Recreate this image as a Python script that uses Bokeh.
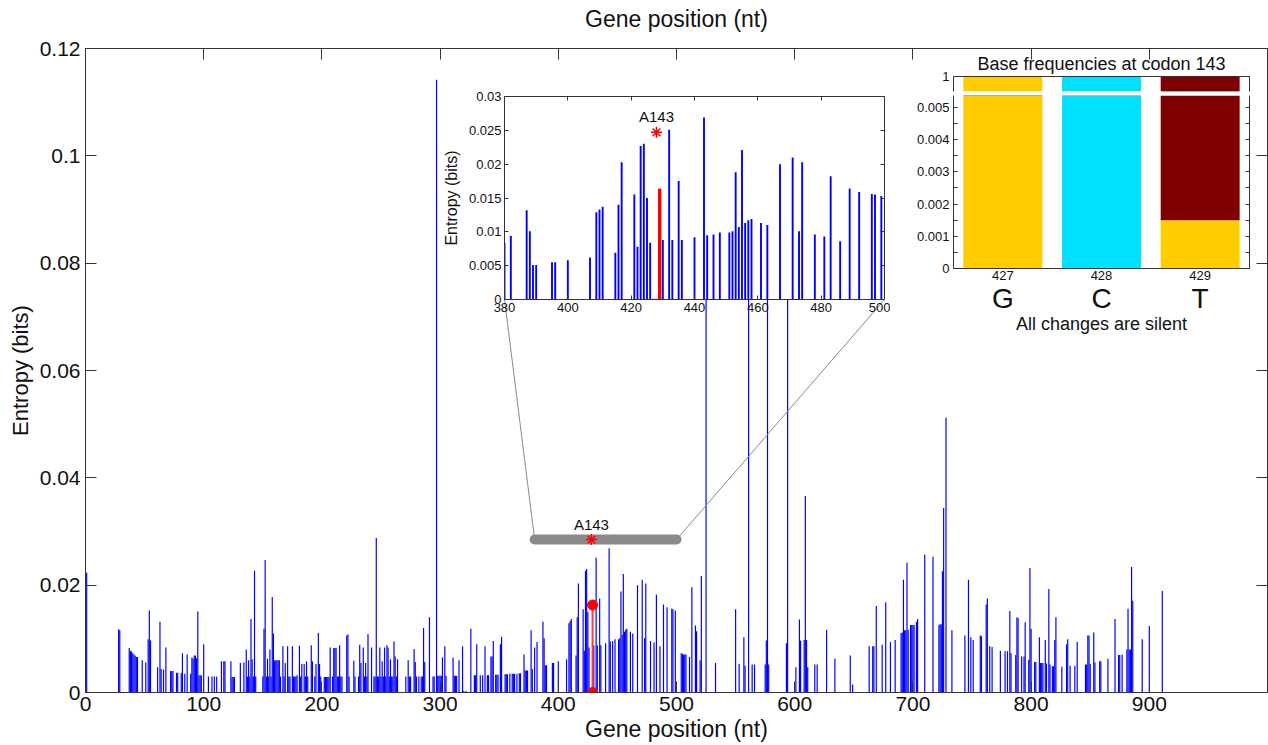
from bokeh.plotting import figure
from bokeh.models import (ColumnDataSource, Range1d, LinearAxis, FixedTicker, GridBox, Title, Grid)
from bokeh.embed import file_html
from bokeh.resources import INLINE
from bokeh.core.properties import value

FONT = "Liberation Sans"
TXT = "#111111"
AXC = "#333333"

# ------------------------------------------------------------------ data
main_pos = [
    0, 1, 28, 29, 37, 38, 39, 40, 41, 42, 43, 44, 48, 51, 53, 54, 55, 61, 63, 64,
    66, 68, 72, 73, 74, 77, 78, 81, 82, 84, 86, 89, 90, 91, 92, 93, 94, 95, 96, 97,
    98, 100, 104, 107, 109, 111, 115, 117, 118, 123, 124, 125, 126, 131, 134, 136, 137, 138, 139, 140,
    141, 142, 143, 144, 150, 151, 152, 153, 154, 155, 156, 157, 158, 159, 160, 161, 162, 163, 164, 165,
    167, 168, 169, 171, 172, 173, 175, 176, 177, 178, 179, 181, 182, 183, 185, 186, 187, 188, 191, 192,
    194, 195, 197, 198, 199, 202, 203, 204, 205, 206, 207, 209, 210, 211, 212, 213, 214, 215, 216, 217,
    221, 222, 223, 227, 228, 231, 232, 233, 235, 236, 237, 238, 239, 242, 244, 245, 246, 247, 248, 249,
    250, 251, 252, 253, 254, 255, 256, 257, 258, 259, 260, 261, 262, 263, 264, 271, 273, 274, 275, 278,
    279, 280, 282, 284, 285, 286, 287, 291, 294, 295, 297, 298, 299, 300, 301, 302, 304, 305, 311, 312,
    313, 314, 316, 319, 320, 322, 326, 329, 330, 331, 334, 336, 338, 340, 341, 343, 344, 345, 347, 348,
    349, 351, 352, 355, 356, 357, 359, 361, 362, 363, 365, 367, 368, 371, 372, 373, 374, 377, 378, 380,
    382, 387, 388, 389, 390, 395, 396, 400, 407, 409, 410, 411, 415, 416, 417, 421, 422, 423, 424, 425,
    426, 430, 432, 433, 435, 436, 440, 443, 444, 446, 448, 451, 452, 453, 454, 455, 456, 457, 458, 461,
    463, 467, 471, 473, 474, 478, 481, 483, 486, 489, 492, 496, 497, 499, 504, 505, 506, 507, 508, 511,
    513, 516, 517, 520, 521, 525, 533, 550, 553, 557, 558, 561, 564, 566, 575, 576, 577, 578, 593, 594,
    601, 604, 605, 608, 609, 610, 611, 617, 619, 627, 634, 647, 649, 663, 666, 667, 669, 674, 677, 681,
    685, 690, 691, 692, 693, 694, 695, 696, 698, 699, 700, 701, 703, 704, 710, 717, 722, 723, 724, 725,
    726, 728, 733, 744, 747, 749, 751, 757, 758, 762, 763, 765, 767, 774, 778, 780, 782, 783, 787, 788,
    789, 792, 794, 795, 798, 799, 800, 803, 804, 807, 808, 809, 810, 812, 813, 815, 816, 818, 819, 820,
    821, 826, 830, 831, 833, 837, 839, 846, 847, 848, 849, 850, 853, 854, 858, 859, 865, 871, 874, 875,
    877, 881, 882, 883, 884, 885, 886, 894, 900, 911,
]
main_val = [
    .0030, .0223, .0118, .0116, .0083, .0078, .0076, .0073, .0071, .0069, .0066, .0066, .0060, .0056, .0099, .0153, .0097, .0047, .0132, .0044,
    .0043, .0084, .0040, .0040, .0040, .0037, .0037, .0036, .0073, .0035, .0071, .0035, .0065, .0063, .0069, .0069, .0064, .0151, .0032, .0032,
    .0032, .0090, .0030, .0030, .0030, .0030, .0058, .0058, .0058, .0058, .0029, .0029, .0029, .0055, .0056, .0080, .0030, .0060, .0030, .0137,
    .0062, .0030, .0227, .0030, .0030, .0119, .0247, .0030, .0063, .0030, .0080, .0030, .0178, .0110, .0060, .0060, .0060, .0060, .0060, .0030,
    .0086, .0030, .0055, .0086, .0030, .0030, .0086, .0030, .0030, .0030, .0032, .0087, .0030, .0053, .0053, .0030, .0058, .0030, .0088, .0058,
    .0030, .0053, .0111, .0053, .0030, .0029, .0029, .0029, .0029, .0029, .0084, .0030, .0083, .0083, .0083, .0030, .0030, .0088, .0030, .0030,
    .0106, .0108, .0030, .0059, .0030, .0030, .0089, .0055, .0084, .0030, .0055, .0030, .0109, .0084, .0030, .0030, .0288, .0030, .0030, .0084,
    .0030, .0058, .0030, .0084, .0030, .0088, .0084, .0030, .0062, .0030, .0030, .0095, .0067, .0030, .0062, .0030, .0060, .0030, .0030, .0081,
    .0057, .0030, .0030, .0030, .0030, .0120, .0057, .0140, .0030, .0030, .1142, .0031, .0031, .0031, .0031, .0065, .0086, .0031, .0065, .0031,
    .0031, .0031, .0060, .0086, .0003, .0003, .0119, .0032, .0032, .0090, .0032, .0032, .0086, .0032, .0032, .0067, .0067, .0096, .0033, .0033,
    .0033, .0090, .0104, .0034, .0034, .0034, .0035, .0035, .0035, .0035, .0035, .0036, .0036, .0071, .0041, .0041, .0041, .0116, .0044, .0084,
    .0094, .0132, .0101, .0051, .0051, .0055, .0055, .0058, .0062, .0129, .0133, .0137, .0069, .0140, .0203, .0155, .0078, .0227, .0230, .0150,
    .0084, .0088, .0251, .0088, .0175, .0088, .0092, .0269, .0095, .0096, .0099, .0099, .0101, .0188, .0107, .0221, .0113, .0117, .0119, .0113,
    .0110, .0200, .0210, .0101, .0203, .0096, .0093, .0182, .0086, .0164, .0159, .0156, .0155, .0153, .0073, .0072, .0071, .0071, .0071, .0066,
    .0196, .0125, .0114, .0060, .0217, .0900, .0055, .0155, .0053, .0103, .0050, .0850, .0052, .0052, .0052, .0097, .0950, .0052, .0092, .0880,
    .0047, .0136, .0097, .0098, .0366, .0098, .0047, .0052, .0052, .0117, .0063, .0069, .0015, .0086, .0086, .0086, .0161, .0089, .0168, .0094,
    .0098, .0111, .0112, .0210, .0116, .0116, .0242, .0117, .0126, .0126, .0126, .0126, .0132, .0137, .0257, .0253, .0126, .0127, .0127, .0226,
    .0344, .0512, .0116, .0106, .0210, .0103, .0098, .0106, .0105, .0164, .0175, .0086, .0085, .0078, .0077, .0077, .0152, .0073, .0070, .0140,
    .0139, .0067, .0067, .0131, .0061, .0232, .0119, .0057, .0057, .0103, .0055, .0055, .0055, .0098, .0054, .0193, .0052, .0049, .0049, .0098,
    .0140, .0048, .0090, .0099, .0050, .0050, .0094, .0052, .0052, .0106, .0106, .0053, .0112, .0056, .0058, .0058, .0063, .0137, .0070, .0070,
    .0071, .0080, .0156, .0080, .0080, .0234, .0171, .0099, .0124, .0189,
]

# codon 143 (nt 427-429)
codon_pos = [427, 428, 429]
codon_entropy = [0.0, 0.0, 0.0163]
codon_label = "A143"
zoom_start, zoom_end = 380, 500

x_ticks = [0, 100, 200, 300, 400, 500, 600, 700, 800, 900]
y_ticks = [0, 0.02, 0.04, 0.06, 0.08, 0.1, 0.12]
y_tick_labels = ["0", "0.02", "0.04", "0.06", "0.08", "0.1", "0.12"]
inset_x_ticks = [380, 400, 420, 440, 460, 480, 500]
inset_y_ticks = [0, 0.005, 0.01, 0.015, 0.02, 0.025, 0.03]
inset_y_tick_labels = ["0", "0.005", "0.01", "0.015", "0.02", "0.025", "0.03"]

# base frequencies at codon 143
bf_positions = [427, 428, 429]
bf_bases = ["G", "C", "T"]
bf_G = [1.0, 0.0, 0.0015]
bf_C = [0.0, 1.0, 0.0]
bf_T = [0.0, 0.0, 0.9985]
bf_colors = ["#ffcc00", "#00e0ff", "#7f0000"]
bf_y_ticks = [0, 0.001, 0.002, 0.003, 0.004, 0.005]
bf_y_tick_labels = ["0", "0.001", "0.002", "0.003", "0.004", "0.005"]
bf_y_minor = [0.0005, 0.0015, 0.0025, 0.0035, 0.0045]

# ------------------------------------------------------------------ layout constants
W, H = 1268, 745
ML, MR, MT, MB = 85, 1, 48, 53
XMAX, YMAX = 1000, 0.12
FW, FH = W - ML - MR, H - MT - MB

# inset 1 (zoom)
I_X, I_Y, I_W, I_H = 430, 86, 460, 243
I_BL, I_BR, I_BT, I_BB = 74, 6, 10, 30
# inset 2 (base frequencies) upper & lower parts
B_X, B_W = 900, 359
BU_Y, BU_H, BU_BT = 44, 51, 32
BL_Y, BL_H = 95, 250
B_BL, B_BR = 53, 10


def no_grid(f):
    for r in f.center:
        if isinstance(r, Grid):
            r.visible = False


def style_axis(ax, tick_len, font_px, show_labels=True, standoff=3, color=AXC):
    ax.major_tick_in = tick_len
    ax.major_tick_out = 0
    ax.minor_tick_line_color = None
    ax.axis_line_color = color
    ax.major_tick_line_color = color
    ax.major_label_text_font = FONT
    ax.major_label_text_font_size = f"{font_px}px"
    ax.major_label_text_color = TXT if show_labels else None
    ax.major_label_standoff = standoff if show_labels else 0
    ax.axis_label_text_font = FONT
    ax.axis_label_text_font_style = "normal"
    ax.axis_label_text_color = TXT


# ------------------------------------------------------------------ main figure
p = figure(width=W, height=H, x_range=Range1d(0, XMAX), y_range=Range1d(0, YMAX),
           output_backend="svg", toolbar_location=None,
           x_axis_location=None, y_axis_location=None,
           min_border_left=ML, min_border_right=MR, min_border_top=MT, min_border_bottom=MB)
p.outline_line_color = None
p.background_fill_color = "white"
p.border_fill_color = "white"
no_grid(p)

ax_b = LinearAxis(ticker=FixedTicker(ticks=x_ticks), axis_label="Gene position (nt)")
style_axis(ax_b, 11, 21, standoff=4)
ax_b.axis_label_text_font_size = "23px"
ax_b.axis_label_standoff = 2
p.add_layout(ax_b, "below")

ax_t = LinearAxis(ticker=FixedTicker(ticks=x_ticks), axis_label="Gene position (nt)")
style_axis(ax_t, 11, 21, show_labels=False)
ax_t.axis_label_text_font_size = "23px"
ax_t.axis_label_standoff = 17
p.add_layout(ax_t, "above")

ax_l = LinearAxis(ticker=FixedTicker(ticks=y_ticks), axis_label="Entropy (bits)",
                  major_label_overrides=dict(zip(y_ticks, y_tick_labels)))
style_axis(ax_l, 11, 21, standoff=5)
ax_l.axis_label_text_font_size = "22px"
ax_l.axis_label_standoff = 4
p.add_layout(ax_l, "left")

ax_r = LinearAxis(ticker=FixedTicker(ticks=y_ticks))
style_axis(ax_r, 11, 21, show_labels=False)
p.add_layout(ax_r, "right")

src = ColumnDataSource(dict(x=main_pos, top=main_val))
p.vbar(x="x", top="top", bottom=0, width=1.0, source=src,
       fill_color="#0000ff", line_color=None)

# codon 143 stem
cx, cv = codon_pos[2], codon_entropy[2]
p.segment(x0=[cx], y0=[0], x1=[cx], y1=[cv], line_color="#ff3b3b", line_width=2)
p.scatter(x=[cx, cx], y=[0, cv], size=10, fill_color="#ff0000", line_color="#ff0000")

# zoom region marker
zoom_bar_y = 0.0285
p.segment(x0=[zoom_start], y0=[zoom_bar_y], x1=[zoom_end], y1=[zoom_bar_y],
          line_color="#8a8a8a", line_width=10, line_cap="round")
codon_mid = codon_pos[1]
p.scatter(x=[codon_mid], y=[zoom_bar_y], marker="asterisk", size=11,
          line_color="#ff0000", line_width=1.5)
p.text(x=[codon_mid], y=[zoom_bar_y], text=[codon_label], y_offset=-7,
       text_align="center", text_baseline="bottom",
       text_font=value(FONT), text_font_size="15px", text_color=TXT)


# connectors from zoom bar ends to inset frame corners (inset layout -> main data coords)
def px_to_x(px):
    return (px - ML) / FW * XMAX


def py_to_y(py):
    return (H - MB - py) / FH * YMAX


inset_left_px = I_X + I_BL
inset_right_px = I_X + I_W - I_BR
inset_bottom_py = I_Y + I_H - I_BB
p.segment(x0=[zoom_start, zoom_end], y0=[zoom_bar_y, zoom_bar_y],
          x1=[px_to_x(inset_left_px), px_to_x(inset_right_px)],
          y1=[py_to_y(inset_bottom_py)] * 2,
          line_color="#8a8a8a", line_width=1)

# ------------------------------------------------------------------ inset 1: zoom 380-500
ins = figure(width=I_W, height=I_H, x_range=Range1d(zoom_start, zoom_end),
             y_range=Range1d(0, inset_y_ticks[-1]),
             output_backend="svg", toolbar_location=None,
             x_axis_location=None, y_axis_location=None,
             min_border_left=I_BL, min_border_right=I_BR,
             min_border_top=I_BT, min_border_bottom=I_BB)
ins.border_fill_color = None
ins.background_fill_color = "white"
ins.outline_line_color = None
no_grid(ins)

ia_b = LinearAxis(ticker=FixedTicker(ticks=inset_x_ticks))
style_axis(ia_b, 4, 13, standoff=3)
ins.add_layout(ia_b, "below")
ia_t = LinearAxis(ticker=FixedTicker(ticks=inset_x_ticks))
style_axis(ia_t, 4, 13, show_labels=False)
ins.add_layout(ia_t, "above")
ia_l = LinearAxis(ticker=FixedTicker(ticks=inset_y_ticks), axis_label="Entropy (bits)",
                  major_label_overrides=dict(zip(inset_y_ticks, inset_y_tick_labels)))
style_axis(ia_l, 4, 13, standoff=3)
ia_l.axis_label_text_font_size = "16px"
ia_l.axis_label_standoff = 6
ins.add_layout(ia_l, "left")
ia_r = LinearAxis(ticker=FixedTicker(ticks=inset_y_ticks))
style_axis(ia_r, 4, 13, show_labels=False)
ins.add_layout(ia_r, "right")

zx = [x for x in main_pos if zoom_start <= x <= zoom_end]
zv = [v for x, v in zip(main_pos, main_val) if zoom_start <= x <= zoom_end]
ins.vbar(x=zx, top=zv, bottom=0, width=0.6, fill_color="#0000ff", line_color=None)
ins.vbar(x=codon_pos, top=codon_entropy, bottom=0, width=0.6,
         fill_color="#ff0000", line_color="#ff0000", line_width=1.5)
asterisk_y = 0.0247
ins.scatter(x=[codon_mid], y=[asterisk_y], marker="asterisk", size=11,
            line_color="#ff0000", line_width=1.5)
ins.text(x=[codon_mid], y=[asterisk_y], text=[codon_label], y_offset=-7,
         text_align="center", text_baseline="bottom",
         text_font=value(FONT), text_font_size="15px", text_color=TXT)

# ------------------------------------------------------------------ inset 2: base frequencies
bf_src = ColumnDataSource(dict(pos=bf_positions, G=bf_G, C=bf_C, T=bf_T))
bx_range = Range1d(bf_positions[0] - 0.5, bf_positions[-1] + 0.5)


def bf_fig(height, y_range, top_border, bottom_border):
    f = figure(width=B_W, height=height, x_range=bx_range, y_range=y_range,
               output_backend="svg", toolbar_location=None,
               x_axis_location=None, y_axis_location=None,
               min_border_left=B_BL, min_border_right=B_BR,
               min_border_top=top_border, min_border_bottom=bottom_border)
    f.border_fill_color = None
    f.background_fill_color = "white"
    f.outline_line_color = None
    no_grid(f)
    f.vbar_stack(bf_bases, x="pos", width=0.8, source=bf_src,
                 fill_color=bf_colors, line_color=None)
    return f


bu = bf_fig(BU_H, Range1d(0.995, 1.0), BU_BT, 4)
bu_l = LinearAxis(ticker=FixedTicker(ticks=[1]))
style_axis(bu_l, 4, 13, standoff=4)
bu.add_layout(bu_l, "left")
bu_r = LinearAxis(ticker=FixedTicker(ticks=[1]))
style_axis(bu_r, 4, 13, show_labels=False)
bu.add_layout(bu_r, "right")
bu_t = LinearAxis(ticker=FixedTicker(ticks=[]))
style_axis(bu_t, 0, 13, show_labels=False)
bu.add_layout(bu_t, "above")
bu.add_layout(Title(text="Base frequencies at codon 143", align="center",
                    text_font=FONT, text_font_size="18px", text_font_style="normal",
                    text_color=TXT, standoff=6), "above")

bl = bf_fig(BL_H, Range1d(0, 0.00537), 0, BL_H - 173)
for side, show in (("left", True), ("right", False)):
    a = LinearAxis(ticker=FixedTicker(ticks=bf_y_ticks, minor_ticks=bf_y_minor),
                   major_label_overrides=dict(zip(bf_y_ticks, bf_y_tick_labels)))
    style_axis(a, 4, 13, show_labels=show, standoff=4)
    a.minor_tick_in = 4
    a.minor_tick_out = 0
    a.minor_tick_line_color = AXC
    bl.add_layout(a, side)
bl_b1 = LinearAxis(ticker=FixedTicker(ticks=bf_positions),
                   major_label_overrides={k: str(k) for k in bf_positions})
style_axis(bl_b1, 0, 13, standoff=2)
bl_b1.major_tick_line_color = None
bl.add_layout(bl_b1, "below")
bl_b2 = LinearAxis(ticker=FixedTicker(ticks=bf_positions),
                   major_label_overrides=dict(zip(bf_positions, bf_bases)),
                   axis_label="All changes are silent")
style_axis(bl_b2, 0, 28, standoff=0)
bl_b2.axis_line_color = None
bl_b2.major_tick_line_color = None
bl_b2.axis_label_text_font_size = "18px"
bl_b2.axis_label_standoff = -3
bl.add_layout(bl_b2, "below")

# ------------------------------------------------------------------ overlapping grid layout
rects = {
    "main": (0, 0, W, H),
    "inset": (I_X, I_Y, I_W, I_H),
    "bu": (B_X, BU_Y, B_W, BU_H),
    "bl": (B_X, BL_Y, B_W, BL_H),
}
xs = sorted({v for (x, y, w, h) in rects.values() for v in (x, x + w)})
ys = sorted({v for (x, y, w, h) in rects.values() for v in (y, y + h)})
cols = [f"{b - a}px" for a, b in zip(xs[:-1], xs[1:])]
rows = [f"{b - a}px" for a, b in zip(ys[:-1], ys[1:])]


def cell(name, fig):
    x, y, w, h = rects[name]
    r0, c0 = ys.index(y), xs.index(x)
    return (fig, r0, c0, ys.index(y + h) - r0, xs.index(x + w) - c0)


grid = GridBox(children=[cell("main", p), cell("inset", ins), cell("bu", bu), cell("bl", bl)],
               rows=rows, cols=cols, spacing=0)

open("out.html", "w").write(file_html(grid, INLINE))
